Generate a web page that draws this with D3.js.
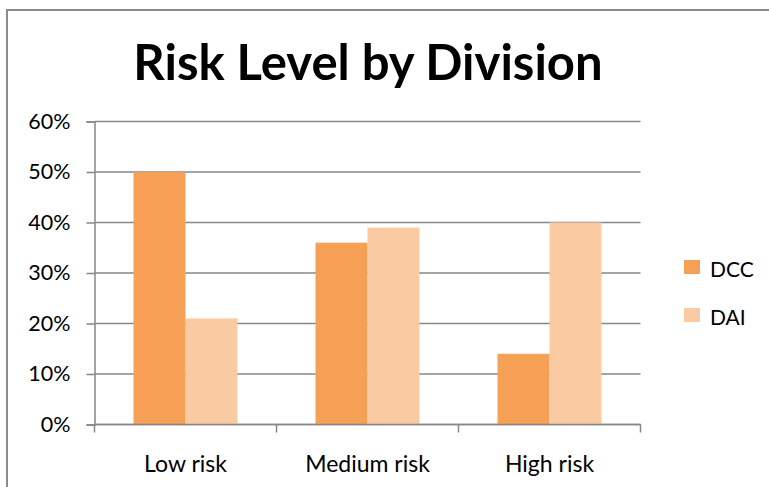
<!DOCTYPE html>
<html>
<head>
<meta charset="utf-8">
<script src="https://cdn.jsdelivr.net/npm/d3@7"></script>
<style>
  html, body { margin: 0; padding: 0; background: #fff; }
  svg { display: block; }
  text { font-family: Lato, "Open Sans", sans-serif; fill: #000; }
</style>
</head>
<body>
<svg id="chart" width="769" height="487"></svg>
<script>
// Risk share per division
const categories = ["Low risk", "Medium risk", "High risk"];
const seriesNames = ["DCC", "DAI"];
const dccValues = [0.50, 0.36, 0.14];
const daiValues = [0.21, 0.39, 0.40];
const yTicks = [0, 0.1, 0.2, 0.3, 0.4, 0.5, 0.6];
const colors = ["#F6A056", "#FACAA3"];

const svg = d3.select("#chart");
const W = 769, H = 487;

// chart frame (continues past the right and bottom edges)
svg.append("rect")
  .attr("x", 7).attr("y", 10)
  .attr("width", W + 20).attr("height", H + 20)
  .attr("fill", "#fff")
  .attr("stroke", "#8c8c8c").attr("stroke-width", 2);

// title
svg.append("text")
  .attr("x", 368).attr("y", 80)
  .attr("text-anchor", "middle")
  .style("font-size", "49px").style("font-weight", "bold")
  .text("Risk Level by Division");

const plot = { left: 94.5, right: 640.5, top: 121.5, bottom: 424.5 };

const x = d3.scaleBand()
  .domain(categories)
  .range([plot.left, plot.right])
  .paddingInner(0).paddingOuter(0);

const x1 = d3.scaleBand()
  .domain(seriesNames)
  .range([0, x.bandwidth()])
  .paddingInner(0)
  .paddingOuter(0.75);

const y = d3.scaleLinear().domain([0, 0.6]).range([plot.bottom, plot.top]);

// horizontal gridlines
svg.append("g")
  .selectAll("line")
  .data(yTicks)
  .join("line")
  .attr("x1", plot.left).attr("x2", plot.right)
  .attr("y1", d => y(d)).attr("y2", d => y(d))
  .attr("stroke", "#878787").attr("stroke-width", 1.5);

// bars
const rows = categories.map((c, i) => ({ cat: c, vals: [dccValues[i], daiValues[i]] }));
svg.append("g")
  .selectAll("g")
  .data(rows)
  .join("g")
  .attr("transform", d => `translate(${x(d.cat)},0)`)
  .selectAll("rect")
  .data(d => d.vals.map((v, j) => ({ name: seriesNames[j], v, j })))
  .join("rect")
  .attr("x", d => x1(d.name))
  .attr("width", x1.bandwidth())
  .attr("y", d => y(d.v))
  .attr("height", d => y(0) - y(d.v))
  .attr("fill", d => colors[d.j]);

// y axis
const yAxis = svg.append("g")
  .attr("transform", `translate(${plot.left},0)`)
  .call(d3.axisLeft(y).tickValues(yTicks).tickFormat(d3.format(".0%"))
    .tickSize(8).tickPadding(16));
yAxis.selectAll("path, line").attr("stroke", "#878787").attr("stroke-width", 1.5);
yAxis.selectAll("text").style("font-size", "21.5px").attr("fill", "#000")
  .style("font-family", "Lato, 'Open Sans', sans-serif");

// x axis with ticks between categories
const xAxis = svg.append("g")
  .attr("transform", `translate(0,${plot.bottom})`);
xAxis.append("line")
  .attr("x1", plot.left).attr("x2", plot.right)
  .attr("stroke", "#878787").attr("stroke-width", 1.5);
const boundaries = categories.map(c => x(c)).concat([x(categories[categories.length - 1]) + x.bandwidth()]);
xAxis.selectAll("line.tick")
  .data(boundaries)
  .join("line")
  .attr("class", "tick")
  .attr("x1", d => d).attr("x2", d => d)
  .attr("y1", 0).attr("y2", 8)
  .attr("stroke", "#878787").attr("stroke-width", 1.5);
xAxis.selectAll("text")
  .data(categories)
  .join("text")
  .attr("x", d => x(d) + x.bandwidth() / 2)
  .attr("y", 47.5)
  .attr("text-anchor", "middle")
  .style("font-size", "23px")
  .text(d => d);

// legend
const legend = svg.append("g").attr("transform", "translate(684,260)");
const item = legend.selectAll("g")
  .data(seriesNames)
  .join("g")
  .attr("transform", (d, i) => `translate(0,${i * 48})`);
item.append("rect")
  .attr("width", 16).attr("height", 14)
  .attr("fill", (d, i) => colors[i]);
item.append("text")
  .attr("x", 26).attr("y", 17)
  .style("font-size", "21px")
  .text(d => d);
</script>
</body>
</html>
